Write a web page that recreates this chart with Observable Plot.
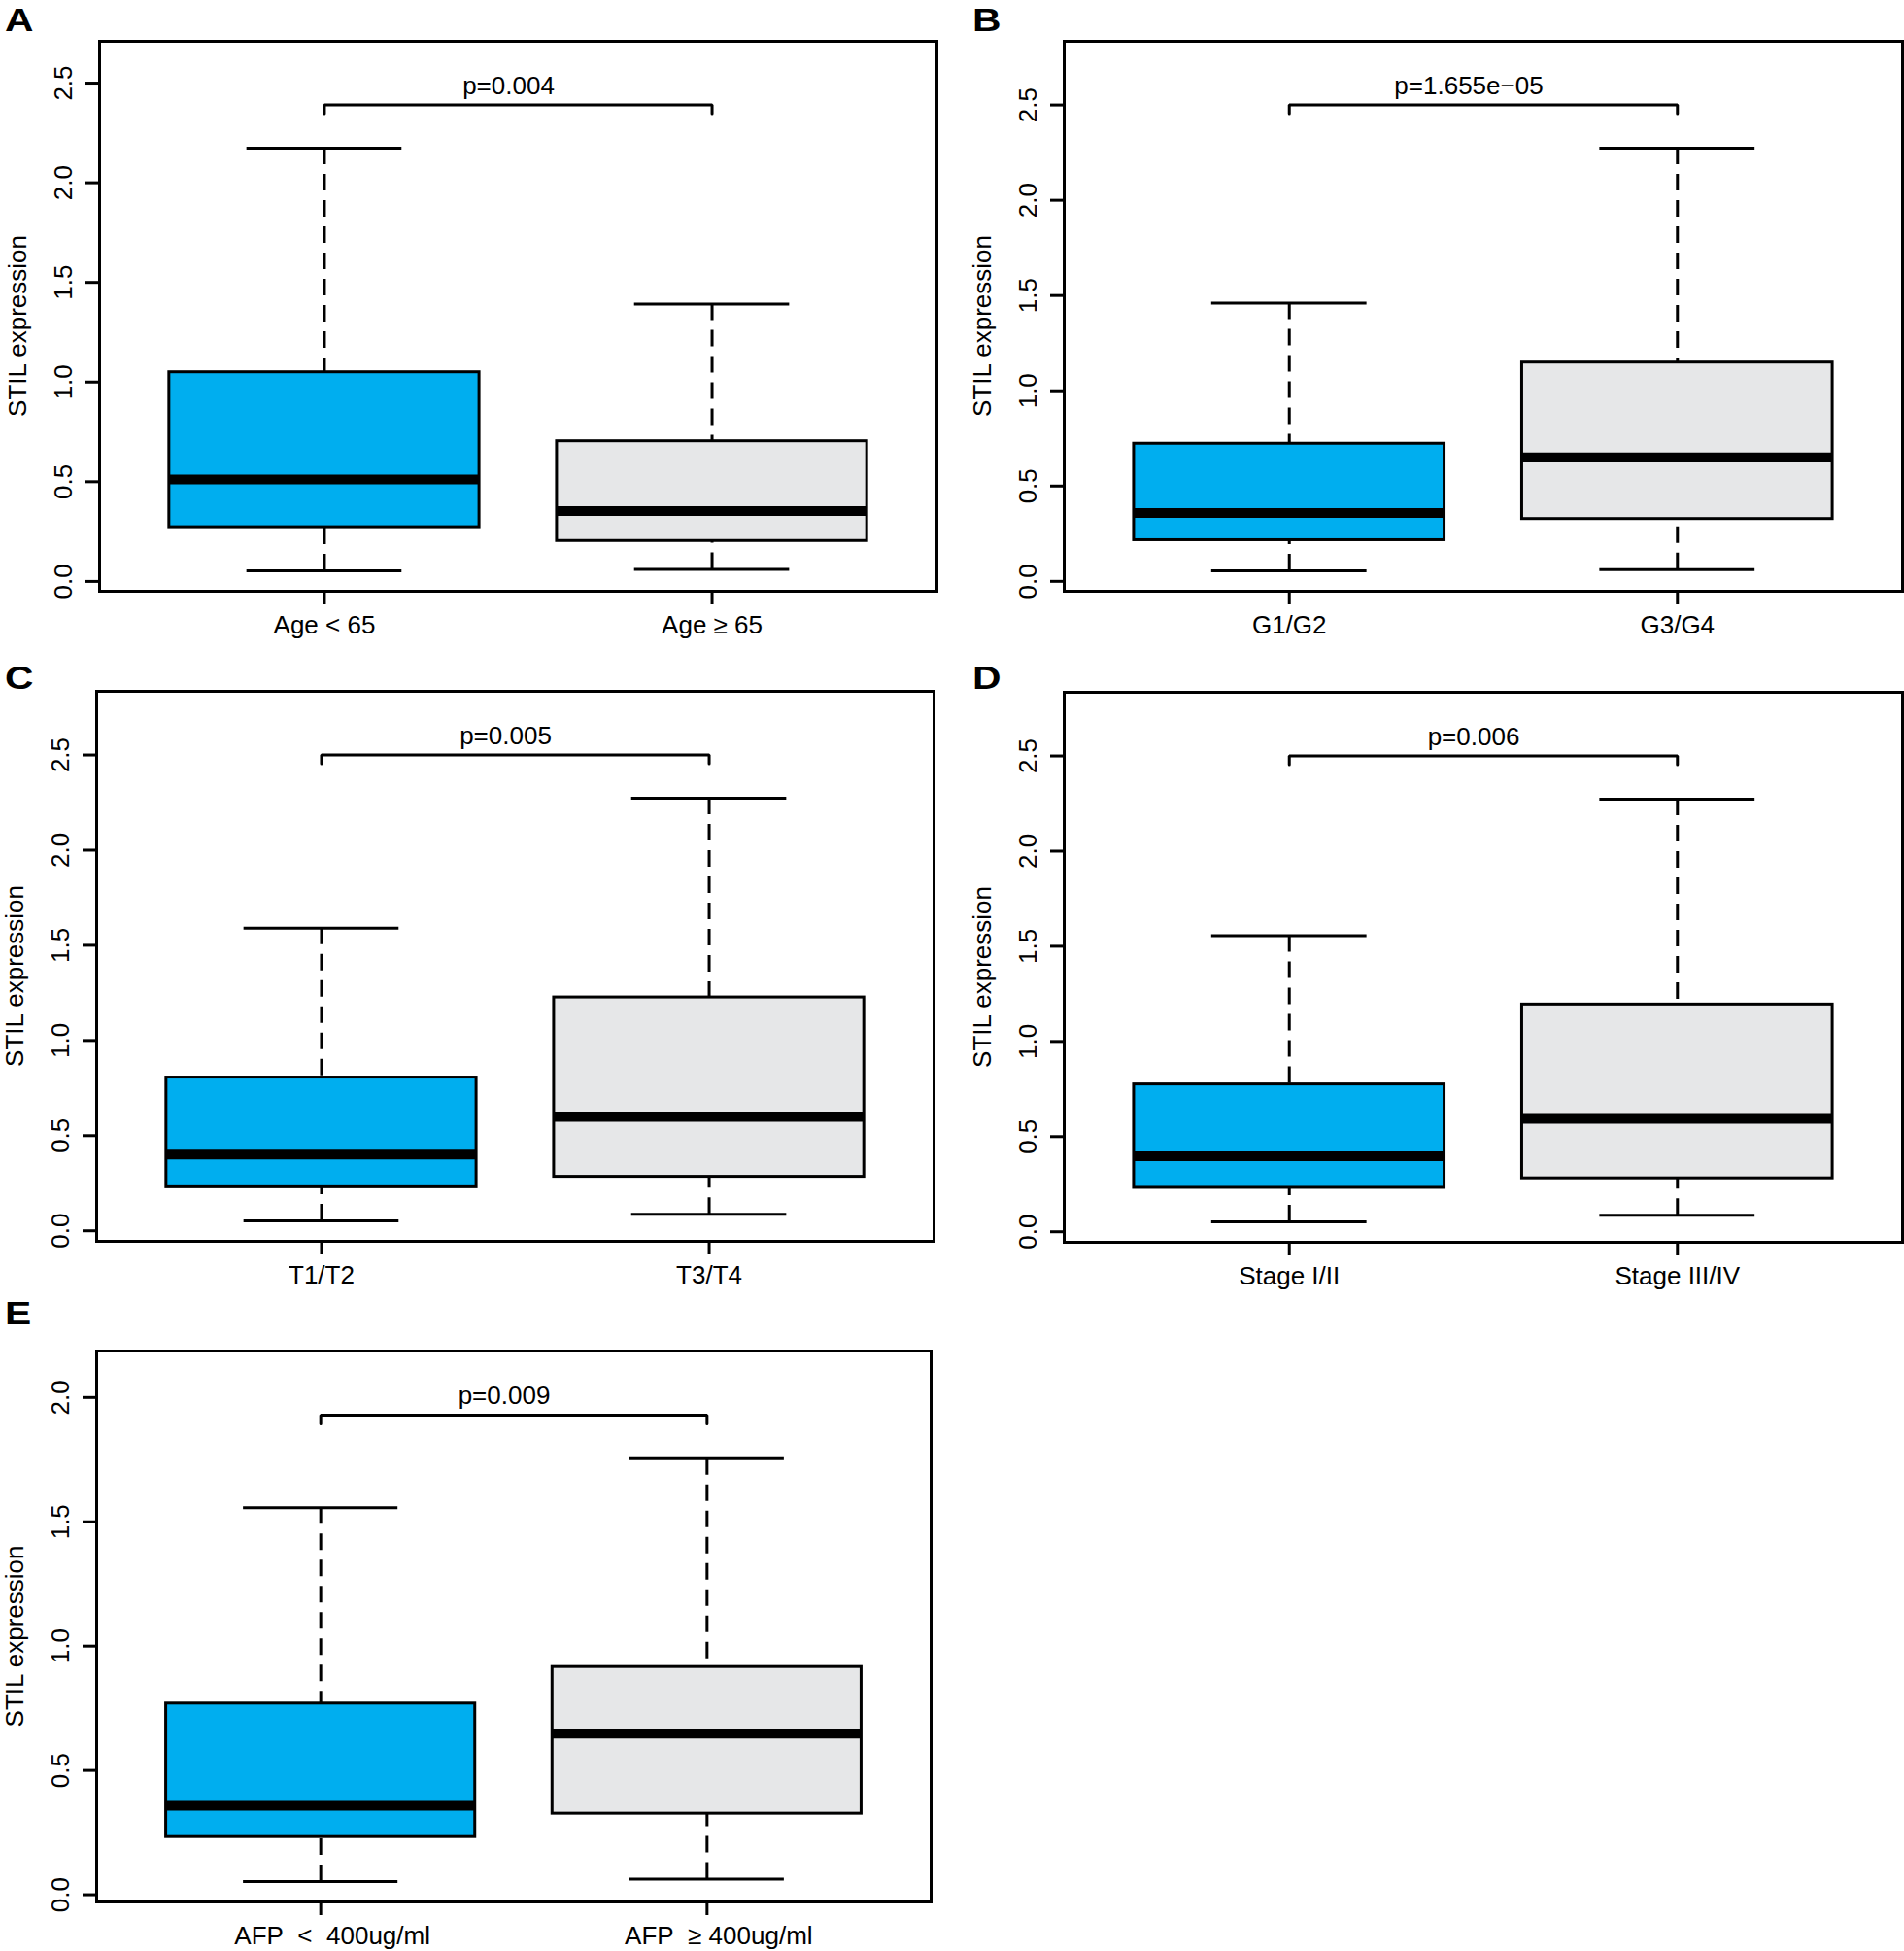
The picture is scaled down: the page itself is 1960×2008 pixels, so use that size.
<!DOCTYPE html>
<html>
<head>
<meta charset="utf-8">
<script src="https://cdn.jsdelivr.net/npm/d3@7"></script>
<script src="https://cdn.jsdelivr.net/npm/@observablehq/plot@0.6"></script>
<style>
  html, body { margin: 0; padding: 0; background: #fff; }
  #root { position: relative; width: 1960px; height: 2008px; background: #fff; overflow: hidden; }
  .panel { position: absolute; }
  .letter { position: absolute; font-family: "Liberation Sans", Arial, sans-serif; font-weight: bold; font-size: 34px; line-height: 1; color: #000; transform: scaleX(1.2); transform-origin: left top; }
</style>
</head>
<body>
<div id="root"></div>
<script>
// ---- Data ----
const panelLetters = ["A", "B", "C", "D", "E"];
const groupLabels = [
  ["Age < 65", "Age \u2265 65"],
  ["G1/G2", "G3/G4"],
  ["T1/T2", "T3/T4"],
  ["Stage I/II", "Stage III/IV"],
  ["AFP\u00a0\u00a0<\u00a0\u00a0400ug/ml", "AFP\u00a0\u00a0\u2265\u00a0400ug/ml"]
];
const whiskerLow  = [[0.053, 0.061], [0.055, 0.062], [0.052, 0.087], [0.052, 0.087], [0.053, 0.063]];
const quartile1   = [[0.272, 0.203], [0.216, 0.327], [0.229, 0.284], [0.231, 0.281], [0.232, 0.326]];
const medians     = [[0.511, 0.353], [0.358, 0.651], [0.401, 0.598], [0.397, 0.593], [0.358, 0.648]];
const quartile3   = [[1.049, 0.703], [0.722, 1.148], [0.805, 1.226], [0.774, 1.194], [0.769, 0.916]];
const whiskerHigh = [[2.173, 1.391], [1.460, 2.273], [1.590, 2.273], [1.556, 2.273], [1.557, 1.754]];
const pLabels = ["p=0.004", "p=1.655e\u221205", "p=0.005", "p=0.006", "p=0.009"];
const yTickValues = [
  [0, 0.5, 1.0, 1.5, 2.0, 2.5],
  [0, 0.5, 1.0, 1.5, 2.0, 2.5],
  [0, 0.5, 1.0, 1.5, 2.0, 2.5],
  [0, 0.5, 1.0, 1.5, 2.0, 2.5],
  [0, 0.5, 1.0, 1.5, 2.0]
];
const yTitle = "STIL expression";
const boxColors = ["#00AEEF", "#E6E7E8"];

// ---- Layout (pixel placement of each panel) ----
const layout = [
  {left: 0,   top: 0,    width: 980, height: 670, mt: 42, mb: 62, ml: 102, mr: 16, lx: 5,    ly: 3,    pdx: -10, xdx: 0},
  {left: 980, top: 0,    width: 980, height: 670, mt: 42, mb: 62, ml: 115, mr: 2,  lx: 1001, ly: 3,    pdx: -15, xdx: 0},
  {left: 0,   top: 670,  width: 980, height: 670, mt: 41, mb: 63, ml: 99,  mr: 19, lx: 5,    ly: 680,  pdx: -10, xdx: 0},
  {left: 980, top: 670,  width: 980, height: 670, mt: 42, mb: 62, ml: 115, mr: 2,  lx: 1001, ly: 680,  pdx: -10, xdx: 0},
  {left: 0,   top: 1340, width: 980, height: 668, mt: 50, mb: 51, ml: 99,  mr: 22, lx: 5,    ly: 1334, pdx: -10, xdx: 12}
];

const root = document.getElementById("root");
const FONT = "Liberation Sans, Arial, Helvetica, sans-serif";

panelLetters.forEach((letter, k) => {
  const L = layout[k];
  const labels = groupLabels[k];
  const rows = labels.map((g, i) => ({
    x: i + 1,
    g,
    lo: whiskerLow[k][i],
    q1: quartile1[k][i],
    med: medians[k][i],
    q3: quartile3[k][i],
    hi: whiskerHigh[k][i],
    fill: boxColors[i]
  }));
  // R-style limits: ylim = c(min, 1.2*max), then 4% extension
  const yLo = d3.min(rows, d => d.lo);
  const yHi = 1.2 * d3.max(rows, d => d.hi);
  const ext = 0.04 * (yHi - yLo);
  const yDomain = [yLo - ext, yHi + ext];
  const bracketY = 1.1 * d3.max(rows, d => d.hi);
  const bracketDrop = 0.016 * (yDomain[1] - yDomain[0]);
  const bracket = [
    {x: 1, y: bracketY - bracketDrop},
    {x: 1, y: bracketY},
    {x: 2, y: bracketY},
    {x: 2, y: bracketY - bracketDrop}
  ];

  const chart = Plot.plot({
    width: L.width,
    height: L.height,
    marginTop: L.mt,
    marginBottom: L.mb,
    marginLeft: L.ml,
    marginRight: L.mr,
    style: {fontFamily: FONT, fontSize: "26px", background: "transparent", overflow: "visible", color: "#000"},
    x: {domain: [0.42, 2.58]},
    y: {domain: yDomain},
    color: {type: "identity"},
    marks: [
      // whiskers (dashed), drawn from the whisker end toward the box
      Plot.ruleX(rows, {x: "x", y1: "hi", y2: "q3", stroke: "black", strokeWidth: 3, strokeDasharray: "17,10"}),
      Plot.ruleX(rows, {x: "x", y1: "lo", y2: "q1", stroke: "black", strokeWidth: 3, strokeDasharray: "17,10"}),
      // staples
      Plot.ruleY(rows, {y: "hi", x1: d => d.x - 0.2, x2: d => d.x + 0.2, stroke: "black", strokeWidth: 3}),
      Plot.ruleY(rows, {y: "lo", x1: d => d.x - 0.2, x2: d => d.x + 0.2, stroke: "black", strokeWidth: 3}),
      // boxes
      Plot.rect(rows, {x1: d => d.x - 0.4, x2: d => d.x + 0.4, y1: "q1", y2: "q3", fill: "fill", stroke: "black", strokeWidth: 3}),
      // medians
      Plot.ruleY(rows, {y: "med", x1: d => d.x - 0.4, x2: d => d.x + 0.4, stroke: "black", strokeWidth: 10}),
      // significance bracket
      Plot.line(bracket, {x: "x", y: "y", stroke: "black", strokeWidth: 3, strokeLinejoin: "miter"}),
      Plot.text([pLabels[k]], {x: () => 1.5, y: () => bracketY, text: d => d, textAnchor: "middle", lineAnchor: "bottom", dx: L.pdx, dy: -11, fontSize: 26, fill: "black"}),
      // y title
      Plot.text([yTitle], {frameAnchor: "left", text: d => d, rotate: -90, textAnchor: "middle", lineAnchor: "bottom", dx: -76, dy: 10, fontSize: 26, fill: "black"}),
      // axes
      Plot.axisY({ticks: yTickValues[k], tickFormat: d3.format(".1f"), tickSize: 14, tickPadding: 15, tickRotate: -90, fontSize: 26, strokeWidth: 3, label: null}),
      Plot.axisX({ticks: [1, 2], tickSize: 14, tickPadding: 11, strokeWidth: 3, label: null, text: null}),
      Plot.axisX({ticks: [1, 2], tickFormat: d => labels[d - 1], tickSize: 0, tickPadding: 25, dx: L.xdx, fontSize: 26, label: null}),
      Plot.frame({stroke: "black", strokeWidth: 3})
    ]
  });
  chart.classList.add("panel");
  chart.style.left = L.left + "px";
  chart.style.top = L.top + "px";
  root.appendChild(chart);

  const lt = document.createElement("div");
  lt.className = "letter";
  lt.textContent = letter;
  lt.style.left = L.lx + "px";
  lt.style.top = L.ly + "px";
  root.appendChild(lt);
});
</script>
</body>
</html>
